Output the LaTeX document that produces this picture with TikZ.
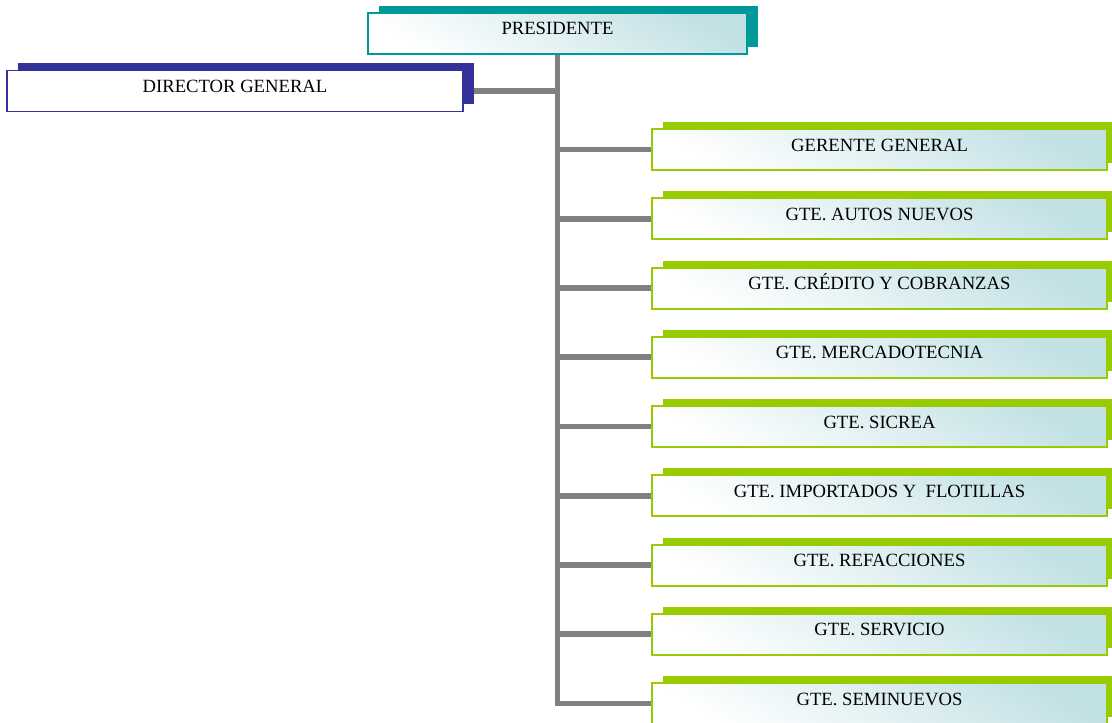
\documentclass[tikz,border=0pt]{standalone}
\usepackage{fontspec}
\setmainfont{Liberation Serif}
\usetikzlibrary{chains,shadows,backgrounds}

\definecolor{tealc}{HTML}{009999}
\definecolor{bluec}{HTML}{333399}
\definecolor{greenc}{HTML}{99CC00}
\definecolor{linec}{HTML}{808080}
\definecolor{tintc}{HTML}{C2E1E5}

\begin{document}
\begin{tikzpicture}[x=0.75pt, y=-0.75pt,
node distance=21.19pt,
 start chain = G going below,
  box/.style = {rectangle, outer sep=0pt, inner sep=0pt,% common look of the boxes
                minimum height=30.75pt, text height=10pt, text depth=7.6pt,
                font=\fontsize{14}{16}\selectfont},
 tint/.style = {shading=axis, top color=tintc, bottom color=white, shading angle=-30},
 pbox/.style = {box, draw=tealc, line width=1.5pt, tint, minimum width=284.25pt,
                general shadow={fill=tealc, shadow xshift=8.25pt, shadow yshift=5.25pt}},
 dbox/.style = {box, draw=bluec, line width=1.2pt, fill=white, minimum width=342pt,
                general shadow={fill=bluec, shadow xshift=8.25pt, shadow yshift=6pt}},
 gbox/.style = {box, draw=greenc, line width=1.5pt, tint, minimum width=341.25pt,
                general shadow={fill=greenc, shadow xshift=8.25pt, shadow yshift=5.25pt},
                on chain},
 conn/.style = {draw=linec, line width=4.2pt},
                        ]
\useasboundingbox (0,0) rectangle (1112,722);
\node[pbox] (P) at (557.5,33) {PRESIDENTE};
\node[dbox] (D) at (235,91) {DIRECTOR GENERAL};
\node[gbox] at (879.5,149.5) {GERENTE GENERAL};
\foreach \i in {GTE. AUTOS NUEVOS,GTE. CRÉDITO Y COBRANZAS,GTE. MERCADOTECNIA,
    GTE. SICREA,GTE. IMPORTADOS Y~ FLOTILLAS,GTE. REFACCIONES,GTE. SERVICIO,
    GTE. SEMINUEVOS}% <-- the managers
    \node[gbox] {\i};
\begin{scope}[on background layer]
\draw[conn] (P.south) -- (P.south |- G-9.west) -- (G-9.west);
\draw[conn] (D.east) -- (D.east -| P.south);
\foreach \k in {1,...,8}
    \draw[conn] (P.south |- G-\k.west) -- (G-\k.west);
\end{scope}
\end{tikzpicture}
\end{document}
